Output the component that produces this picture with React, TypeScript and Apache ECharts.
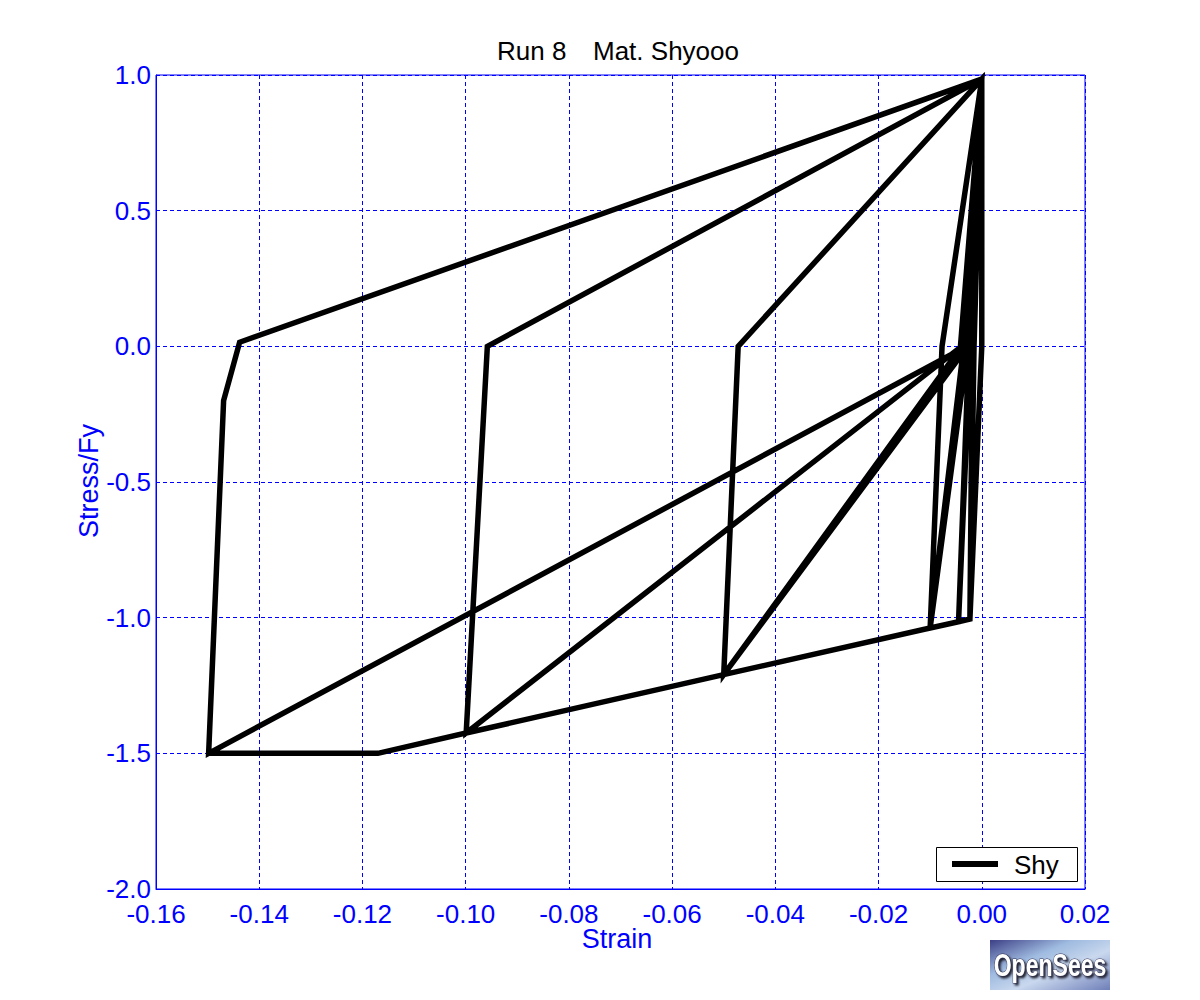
import React, { useEffect, useRef } from "react";
import * as echarts from "echarts";

// Strain / stress path (Stress normalised by Fy)
const strain: number[] = [
  0, -0.0023, 0, 0, -0.0015, -0.0023, 0, 0,
  -0.0018, -0.0023, -0.0045, -0.0022, 0, -0.0025, -0.0045, -0.0022, 0,
  -0.0025, -0.0045, -0.01, -0.0077, 0, -0.0027, -0.01, -0.0077, 0,
  -0.0035, -0.01, -0.05, -0.0472, 0, -0.0043, -0.05, -0.0472, 0,
  -0.0039, -0.05, -0.0999, -0.0958, 0, -0.0039, -0.0999, -0.0958, 0,
  -0.0039, -0.0999, -0.117, -0.1498, -0.1469, -0.1438, 0, -0.0039, -0.1498, -0.1469, -0.1438, 0,
];
const stress: number[] = [
  0, -1.005, 0, 0.985, 0, -1.005, 0, 0.985,
  0, -1.005, -1.015, 0, 0.985, 0, -1.015, 0, 0.985,
  0, -1.015, -1.038, 0, 0.985, 0, -1.038, 0, 0.985,
  0, -1.038, -1.21, 0, 0.985, -0.04, -1.21, 0, 0.985,
  0, -1.21, -1.425, 0, 0.985, 0, -1.425, 0, 0.985,
  0, -1.425, -1.5, -1.5, -0.2, 0.015, 0.985, -0.01, -1.5, -0.2, 0.015, 0.985,
];

const seriesName = "Shy";
const titleLeft = "Run 8";
const titleRight = "Mat. Shyooo";
const xName = "Strain";
const yName = "Stress/Fy";

const BLUE = "#0000ff";
const FONT = "Liberation Sans, Arial, sans-serif";

export default function App() {
  const ref = useRef<HTMLDivElement>(null);
  useEffect(() => {
    if (!ref.current) return;
    const chart = echarts.init(ref.current, undefined, { renderer: "svg" });
    const data = strain.map((s, i) => [s, stress[i]]);
    const fmt = (d: number) => (v: number) => (Math.abs(v) < 1e-9 ? 0 : v).toFixed(d);
    chart.setOption({
      animation: false,
      backgroundColor: "#ffffff",
      textStyle: { fontFamily: FONT },
      grid: {
        left: 156,
        top: 75,
        width: 929,
        height: 814,
        show: true,
        borderColor: BLUE,
        borderWidth: 1,
        backgroundColor: "#ffffff",
      },
      xAxis: {
        type: "value",
        min: -0.16,
        max: 0.02,
        interval: 0.02,
        axisLine: { show: true, onZero: false, lineStyle: { color: BLUE, width: 1 } },
        axisTick: { show: false },
        axisLabel: {
          color: BLUE,
          fontSize: 26,
          lineHeight: 20,
          fontFamily: FONT,
          margin: 15,
          formatter: fmt(2),
        },
        splitLine: { show: true, lineStyle: { color: BLUE, type: [4, 3], width: 1 } },
      },
      yAxis: {
        type: "value",
        min: -2,
        max: 1,
        interval: 0.5,
        axisLine: { show: true, onZero: false, lineStyle: { color: BLUE, width: 1 } },
        axisTick: { show: false },
        axisLabel: {
          color: BLUE,
          fontSize: 26,
          lineHeight: 20,
          padding: [0, 0, 4, 0],
          fontFamily: FONT,
          margin: 5,
          formatter: fmt(1),
        },
        splitLine: { show: true, lineStyle: { color: BLUE, type: [4, 3], width: 1 } },
      },
      series: [
        {
          name: seriesName,
          type: "line",
          data,
          showSymbol: false,
          symbol: "none",
          clip: true,
          lineStyle: { color: "#000000", width: 5.5, join: "miter", cap: "butt" },
        },
      ],
      graphic: [
        {
          type: "text",
          left: 497,
          top: 38,
          style: { text: titleLeft, fill: "#000", font: `26px ${FONT}` },
        },
        {
          type: "text",
          left: 593,
          top: 38,
          style: { text: titleRight, fill: "#000", font: `26px ${FONT}` },
        },
        {
          type: "text",
          x: 617,
          y: 939,
          style: { text: xName, fill: BLUE, font: `27px ${FONT}`, align: "center", verticalAlign: "middle" },
        },
        {
          type: "text",
          x: 89,
          y: 481,
          rotation: Math.PI / 2,
          style: { text: yName, fill: BLUE, font: `27px ${FONT}`, align: "center", verticalAlign: "middle" },
        },
        // legend
        {
          type: "rect",
          shape: { x: 936.5, y: 847.5, width: 141, height: 34 },
          style: { fill: "#ffffff", stroke: "#000000", lineWidth: 1 },
          z: 100,
        },
        {
          type: "line",
          shape: { x1: 952, y1: 864, x2: 998, y2: 864 },
          style: { stroke: "#000000", lineWidth: 6 },
          z: 101,
        },
        {
          type: "text",
          x: 1014,
          y: 865,
          style: { text: seriesName, fill: "#000", font: `26px ${FONT}`, verticalAlign: "middle" },
          z: 101,
        },
        // OpenSees logo approximation
        {
          type: "rect",
          shape: { x: 990, y: 940, width: 120, height: 50 },
          style: {
            fill: new echarts.graphic.LinearGradient(0, 0, 1, 1, [
              { offset: 0, color: "#3c3f86" },
              { offset: 0.35, color: "#9fbbe0" },
              { offset: 0.6, color: "#c9d8ee" },
              { offset: 1, color: "#6f7fb8" },
            ]),
          },
        },
        {
          type: "text",
          x: 1050,
          y: 965,
          scaleX: 0.72,
          style: {
            text: "OpenSees",
            fill: "#ffffff",
            font: `bold 32px ${FONT}`,
            align: "center",
            verticalAlign: "middle",
            stroke: "#333355",
            lineWidth: 1,
            textShadowColor: "#222233",
            textShadowBlur: 2,
            textShadowOffsetX: 2,
            textShadowOffsetY: 2,
          },
        },
      ],
    });
    return () => chart.dispose();
  }, []);
  return (
    <div
      ref={ref}
      style={{ position: "fixed", left: 0, top: 0, width: 1200, height: 1000, background: "#fff" }}
    />
  );
}
